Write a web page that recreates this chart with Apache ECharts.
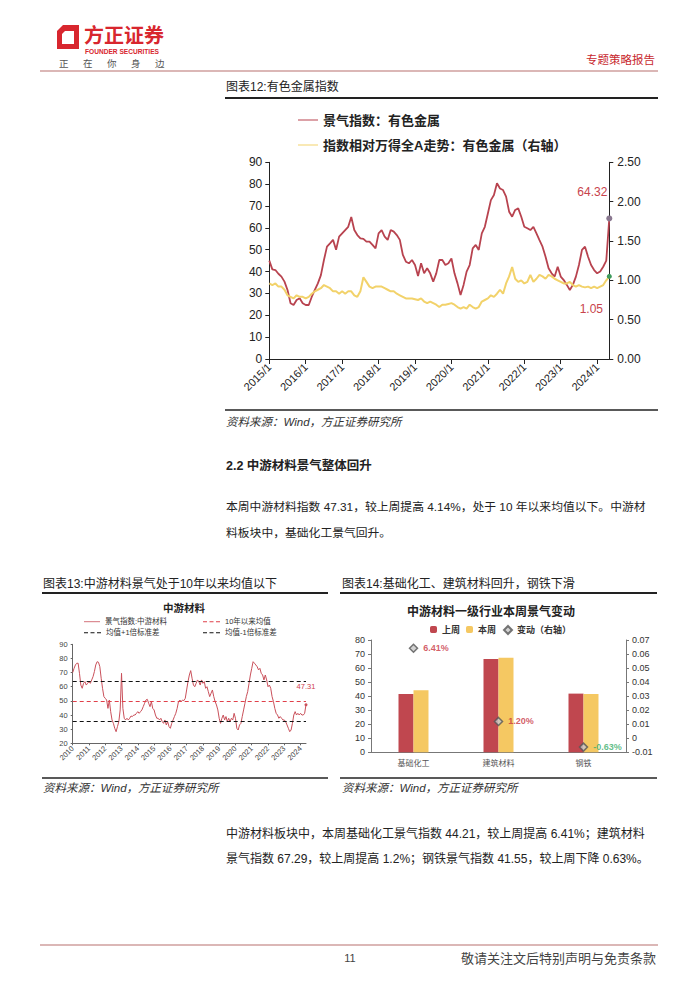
<!DOCTYPE html>
<html>
<head>
<meta charset="utf-8">
<title>有色金属指数 / 中游材料</title>
<script src="https://cdn.jsdelivr.net/npm/echarts@6/dist/echarts.min.js"></script>
<style>
  html, body { margin: 0; padding: 0; background: #fff; }
  #page { width: 700px; height: 990px; }
</style>
</head>
<body>
<div id="page"></div>
<script>
// 月度类目
function makeMonths(y0, m0, y1, m1) {
    var out = [];
    for (var y = y0; y <= y1; y++) {
        for (var m = (y === y0 ? m0 : 1); m <= (y === y1 ? m1 : 12); m++) {
            out.push(y + '/' + m);
        }
    }
    return out;
}

// 图表12：有色金属
var metalMonths = makeMonths(2015, 1, 2024, 5);
var metalIndex = [
    45, 41, 40.7, 39, 37.7, 35.4, 31.6, 25.5, 24.7, 27, 27.8, 25.5,
    24.7, 24.7, 28.5, 31.6, 34.6, 38.4, 45.3, 51.4, 52.9, 54.5, 50, 56,
    57.5, 59, 60.5, 65, 59, 56.7, 55.2, 55, 53.7, 53.7, 52.2, 50.6,
    57.5, 59, 56, 54.5, 59, 58.3, 56.7, 54.5, 47.6, 44.5, 43.8, 45.3,
    43, 38, 43.8, 39.2, 41.5, 39.2, 35.4, 39.2, 45.3, 45.3, 43, 43.8,
    46, 39.2, 34.6, 29.3, 33.9, 40, 43, 50.6, 52.2, 49.9, 57.5, 60.5,
    66.6, 72.7, 75, 80.4, 78, 77.3, 74.3, 67.4, 65.1, 68.2, 68.9, 65.1,
    60.5, 59.8, 59, 60.5, 57.5, 54.4, 51.4, 46.8, 41.5, 39.2, 37.7, 42.2,
    37.7, 36.1, 33.9, 31.6, 33.9, 37.7, 43, 49.9, 51.4, 46.8, 43, 40.7,
    39.2, 40, 42.2, 45, 64.32
];
var metalRelative = [
    0.96, 0.94, 0.96, 0.92, 0.92, 0.88, 0.81, 0.79, 0.77, 0.81, 0.79, 0.79,
    0.77, 0.79, 0.83, 0.86, 0.88, 0.90, 0.94, 0.92, 0.90, 0.86, 0.86, 0.83,
    0.86, 0.83, 0.86, 0.86, 0.81, 0.79, 0.86, 1.04, 0.98, 0.92, 0.90, 0.92,
    0.92, 0.92, 0.90, 0.88, 0.86, 0.86, 0.83, 0.81, 0.79, 0.77, 0.77, 0.77,
    0.76, 0.75, 0.77, 0.73, 0.71, 0.73, 0.71, 0.69, 0.66, 0.69, 0.69, 0.70,
    0.71, 0.69, 0.66, 0.64, 0.66, 0.64, 0.69, 0.66, 0.64, 0.66, 0.73, 0.75,
    0.77, 0.81, 0.79, 0.83, 0.88, 0.83, 0.96, 1.05, 1.17, 1.02, 0.98, 1.00,
    0.96, 0.98, 1.07, 0.98, 1.02, 1.07, 1.05, 1.02, 1.07, 1.05, 1.02, 1.00,
    0.98, 0.96, 0.96, 0.98, 0.94, 0.92, 0.94, 0.92, 0.91, 0.92, 0.90, 0.92,
    0.90, 0.92, 0.94, 1.00, 1.05
];

// 图表13：中游材料
var midMonths = makeMonths(2010, 1, 2024, 5);
var midIndex = [
    70, 73, 75.4, 76.6, 76.6, 69.5, 61.2, 58.9, 62.4, 63.6, 61.2, 62.4,
    63.6, 62.4, 64.8, 67.1, 70.7, 75.4, 77.7, 77.3, 74.2, 66, 58.9, 53,
    51.8, 50.6, 44.7, 50.6, 42.4, 36.5, 34.1, 30.6, 28.2, 31.8, 35.3, 43.6,
    69.5, 44.7, 37.7, 36.5, 37.7, 36.5, 37.7, 39.3, 38.9, 40, 40, 41.2,
    42.4, 41.2, 42.4, 43.6, 45.9, 48.3, 50.6, 51.1, 48.3, 45.9, 49.5, 44.7,
    43.6, 40, 37.7, 37.7, 36.5, 37.7, 35.3, 34.1, 36.5, 33, 35.3, 31.8,
    30.6, 34.1, 36.5, 38.9, 41.2, 44.7, 49.5, 50.6, 49.5, 50.6, 50.2, 51.8,
    57.7, 63.6, 68.3, 71.4, 66, 61.2, 60, 62.4, 64.8, 63.6, 61.2, 64.8,
    62.4, 63.6, 58.9, 60, 56.5, 53, 55.4, 57.7, 53, 49.5, 47.1, 43.6,
    37.7, 34.1, 37.7, 40, 36.5, 38.9, 35.3, 37.7, 35.3, 37.7, 36.5, 41.2,
    37.7, 30.6, 29.4, 33, 34.1, 38.9, 43.6, 48.3, 53, 56.5, 62.4, 68.3,
    73, 77.7, 76.6, 75.4, 74.2, 71.9, 73, 69.5, 68.3, 64.8, 68.3, 64.8,
    60, 61.2, 58.9, 53, 49.5, 44.7, 41.2, 40, 37.7, 38.9, 37.7, 36.5,
    36.5, 35.3, 33, 30.6, 28.2, 29.4, 34.1, 40, 42.4, 40, 41.2, 40,
    41.2, 40, 40, 41.2, 47.31
];
var midMean = 49.7;
var midUpper = 64.0;
var midLower = 35.6;

// 图表14：中游材料一级行业
var industries = ['基础化工', '建筑材料', '钢铁'];
var lastWeek = [41.55, 66.49, 41.81];
var thisWeek = [44.21, 67.29, 41.55];
var weekChange = [0.0641, 0.0120, -0.0063];

var FONT = "'Liberation Sans', 'Noto Sans CJK SC', sans-serif";
var RED = '#b8434f';
var YELLOW = '#f2d26a';
var LOGO_RED = '#d8262e';
// 图例图标：实线、虚线
var SOLID_ICON = 'path://M0,0h20v1h-20z';
var DASH_ICON = 'path://M0,0h4v1h-4zM6.5,0h4v1h-4zM13,0h4v1h-4z';

function isJan(i, v) { return /\/1$/.test(v); }
function txt(s, x, y, size, opt) {
    opt = opt || {};
    return {
        type: 'text',
        style: {
            text: s, x: x, y: y,
            font: (opt.style || '') + ' ' + (opt.weight || 'normal') + ' ' + size + 'px ' + FONT,
            fill: opt.color || '#222',
            textAlign: opt.align || 'left',
            textVerticalAlign: 'middle'
        }
    };
}
function hline(x1, x2, y, w, color) {
    return { type: 'line', shape: { x1: x1, y1: y, x2: x2, y2: y }, style: { stroke: color, lineWidth: w } };
}
function lineLegend(name, icon, left, top, w, h, font) {
    return {
        left: left, top: top, padding: 0, itemWidth: w, itemHeight: h,
        textStyle: font, data: [{ name: name, icon: icon }]
    };
}

var chart = echarts.init(document.getElementById('page'), null, { renderer: 'svg' });

var graphics = [
    // 页眉
    { type: 'polygon', shape: { points: [[63, 25], [79, 25], [79, 49], [57, 49], [57, 31]] }, style: { fill: LOGO_RED } },
    { type: 'polygon', shape: { points: [[65, 31], [74, 31], [74, 44], [62, 44], [62, 34]] }, style: { fill: '#fff' } },
    txt('方正证券', 84, 36, 20, { weight: 'bold', color: LOGO_RED }),
    txt('FOUNDER SECURITIES', 85, 51, 6.6, { weight: 'bold', color: LOGO_RED }),
    txt('正', 59, 63, 9.5, { color: '#555' }),
    txt('在', 83, 63, 9.5, { color: '#555' }),
    txt('你', 107, 63, 9.5, { color: '#555' }),
    txt('身', 131, 63, 9.5, { color: '#555' }),
    txt('边', 155, 63, 9.5, { color: '#555' }),
    txt('专题策略报告', 655, 60, 11.5, { color: '#c8282e', align: 'right' }),
    hline(40, 658, 71, 1.2, '#b8706f'),

    // 图表12
    txt('图表12:有色金属指数', 226, 87, 12),
    hline(225, 658, 98, 2, '#222'),
    hline(225, 658, 410, 1.6, '#222'),
    txt('资料来源：Wind，方正证券研究所', 226, 422, 11.5, { style: 'italic', color: '#333' }),

    txt('2.2 中游材料景气整体回升', 226, 466, 12.5, { weight: 'bold' }),
    txt('本周中游材料指数 47.31，较上周提高 4.14%，处于 10 年以来均值以下。中游材', 226, 507, 11.8),
    txt('料板块中，基础化工景气回升。', 226, 533, 11.8),

    // 图表13
    txt('图表13:中游材料景气处于10年以来均值以下', 43, 584, 12),
    hline(42, 328, 593, 2, '#222'),
    txt('中游材料', 184, 608, 10.5, { weight: 'bold', align: 'center' }),
    hline(42, 328, 778, 1.6, '#222'),
    txt('资料来源：Wind，方正证券研究所', 43, 788, 11.5, { style: 'italic', color: '#333' }),

    // 图表14
    txt('图表14:基础化工、建筑材料回升，钢铁下滑', 342, 584, 12),
    hline(340, 657, 593, 2, '#222'),
    txt('中游材料一级行业本周景气变动', 491, 612, 12, { weight: 'bold', align: 'center' }),
    hline(340, 657, 778, 1.6, '#222'),
    txt('资料来源：Wind，方正证券研究所', 342, 788, 11.5, { style: 'italic', color: '#333' }),

    txt('中游材料板块中，本周基础化工景气指数 44.21，较上周提高 6.41%；建筑材料', 226, 834, 12),
    txt('景气指数 67.29，较上周提高 1.2%；钢铁景气指数 41.55，较上周下降 0.63%。', 226, 859, 12),

    // 页脚
    hline(40, 658, 945, 1.2, '#b8706f'),
    txt('11', 350, 958, 11, { color: '#444', align: 'center' }),
    txt('敬请关注文后特别声明与免责条款', 656, 958, 13, { color: '#444', align: 'right' })
];

var lastMetal = metalMonths[metalMonths.length - 1];
var lastMid = midMonths[midMonths.length - 1];

var bigFont = { fontSize: 13, fontWeight: 'bold', color: '#222' };
var smallFont = { fontSize: 7.5, color: '#333' };
var barFont = { fontSize: 9, fontWeight: 'bold', color: '#333' };

var option = {
    animation: false,
    backgroundColor: '#fff',
    textStyle: { fontFamily: FONT },
    graphic: graphics,
    legend: [
        lineLegend('景气指数：有色金属', SOLID_ICON, 298, 113.5, 20, 2, bigFont),
        lineLegend('指数相对万得全A走势：有色金属（右轴）', SOLID_ICON, 298, 138.5, 20, 2, bigFont),
        lineLegend('景气指数:中游材料', SOLID_ICON, 84, 618, 16, 1.2, smallFont),
        lineLegend('10年以来均值', DASH_ICON, 203, 618, 17, 1.2, smallFont),
        lineLegend('均值+1倍标准差', DASH_ICON, 84, 629, 17, 1.2, smallFont),
        lineLegend('均值-1倍标准差', DASH_ICON, 203, 629, 17, 1.2, smallFont),
        { left: 430, top: 625, padding: 0, itemWidth: 7, itemHeight: 7, textStyle: barFont, data: ['上周'] },
        { left: 466, top: 625, padding: 0, itemWidth: 7, itemHeight: 7, textStyle: barFont, data: ['本周'] },
        { left: 503, top: 625, padding: 0, itemWidth: 8, itemHeight: 8, textStyle: barFont, data: ['变动（右轴）'] }
    ],
    grid: [
        { left: 269.3, top: 162.3, width: 340, height: 196.7 },
        { left: 72.7, top: 644.3, width: 233.3, height: 99 },
        { left: 371, top: 640, width: 255, height: 112.3 }
    ],
    xAxis: [
        {
            gridIndex: 0, type: 'category', data: metalMonths, boundaryGap: false,
            axisLine: { lineStyle: { color: '#222' } },
            axisTick: { interval: isJan, length: 5, lineStyle: { color: '#222' } },
            axisLabel: { interval: isJan, rotate: 45, fontSize: 11, color: '#222', margin: 6 }
        },
        {
            gridIndex: 1, type: 'category', data: midMonths, boundaryGap: false,
            axisLine: { lineStyle: { color: '#666' } },
            axisTick: { interval: isJan, length: 2, lineStyle: { color: '#666' } },
            axisLabel: {
                interval: isJan, rotate: 45, fontSize: 7.5, color: '#444', margin: 4,
                formatter: function (v) { return v.split('/')[0]; }
            }
        },
        {
            gridIndex: 2, type: 'category', data: industries,
            axisLine: { lineStyle: { color: '#777' } },
            axisTick: { length: 4, lineStyle: { color: '#777' } },
            axisLabel: { fontSize: 8, color: '#555', margin: 7 }
        }
    ],
    yAxis: [
        {
            gridIndex: 0, type: 'value', min: 0, max: 90, interval: 10,
            splitLine: { show: false },
            axisLine: { show: true, lineStyle: { color: '#222' } },
            axisTick: { show: true, length: 4, lineStyle: { color: '#222' } },
            axisLabel: { fontSize: 12, color: '#222', margin: 7 }
        },
        {
            gridIndex: 0, type: 'value', min: 0, max: 2.5, interval: 0.5, position: 'right',
            splitLine: { show: false },
            axisLine: { show: true, lineStyle: { color: '#222' } },
            axisTick: { show: true, length: 4, lineStyle: { color: '#222' } },
            axisLabel: { fontSize: 12, color: '#222', margin: 8, formatter: function (v) { return v.toFixed(2); } }
        },
        {
            gridIndex: 1, type: 'value', min: 20, max: 90, interval: 10,
            splitLine: { show: false },
            axisLine: { show: true, lineStyle: { color: '#666' } },
            axisTick: { show: true, length: 2, lineStyle: { color: '#666' } },
            axisLabel: { fontSize: 7.5, color: '#444', margin: 5 }
        },
        {
            gridIndex: 2, type: 'value', min: 0, max: 80, interval: 10,
            splitLine: { show: false },
            axisLine: { show: true, lineStyle: { color: '#777' } },
            axisTick: { show: true, length: 3, lineStyle: { color: '#777' } },
            axisLabel: { fontSize: 9, color: '#333', margin: 6 }
        },
        {
            gridIndex: 2, type: 'value', min: -0.01, max: 0.07, interval: 0.01, position: 'right',
            splitLine: { show: false },
            axisLine: { show: true, lineStyle: { color: '#777' } },
            axisTick: { show: true, length: 3, lineStyle: { color: '#777' } },
            axisLabel: {
                fontSize: 9, color: '#333', margin: 6,
                formatter: function (v) { return Math.abs(v) < 1e-9 ? '0' : v.toFixed(2); }
            }
        }
    ],
    series: [
        {
            name: '景气指数：有色金属', type: 'line', xAxisIndex: 0, yAxisIndex: 0,
            data: metalIndex, symbol: 'none',
            itemStyle: { color: RED }, lineStyle: { color: RED, width: 1.8 },
            markPoint: {
                symbol: 'circle', symbolSize: 6,
                itemStyle: { color: '#8a7890' },
                label: { show: true, position: 'top', offset: [-17, -12], fontSize: 12, color: '#c8434c', formatter: '64.32' },
                data: [{ coord: [lastMetal, metalIndex[metalIndex.length - 1]] }]
            }
        },
        {
            name: '指数相对万得全A走势：有色金属（右轴）', type: 'line', xAxisIndex: 0, yAxisIndex: 1,
            data: metalRelative, symbol: 'none',
            itemStyle: { color: YELLOW }, lineStyle: { color: YELLOW, width: 2 },
            markPoint: {
                symbol: 'circle', symbolSize: 5,
                itemStyle: { color: '#3f9a5c' },
                label: { show: true, position: 'bottom', offset: [-18, 19], fontSize: 12, color: '#c8434c', formatter: '1.05' },
                data: [{ coord: [lastMetal, metalRelative[metalRelative.length - 1]] }]
            }
        },
        {
            name: '景气指数:中游材料', type: 'line', xAxisIndex: 1, yAxisIndex: 2,
            data: midIndex, symbol: 'none',
            itemStyle: { color: '#c9505a' }, lineStyle: { color: '#c9505a', width: 1 },
            markPoint: {
                symbol: 'circle', symbolSize: 3,
                itemStyle: { color: '#c9505a' },
                label: { show: true, position: 'top', offset: [0, -8], fontSize: 7.5, color: '#d0404c', formatter: '47.31' },
                data: [{ coord: [lastMid, midIndex[midIndex.length - 1]] }]
            }
        },
        {
            name: '10年以来均值', type: 'line', xAxisIndex: 1, yAxisIndex: 2, data: [], symbol: 'none',
            itemStyle: { color: '#e0404a' }, lineStyle: { color: '#e0404a', width: 1.2, type: [4, 3] },
            markLine: {
                symbol: 'none', silent: true, label: { show: false },
                lineStyle: { color: '#e0404a', width: 1.2, type: [4, 3] },
                data: [{ yAxis: midMean }]
            }
        },
        {
            name: '均值+1倍标准差', type: 'line', xAxisIndex: 1, yAxisIndex: 2, data: [], symbol: 'none',
            itemStyle: { color: '#111' }, lineStyle: { color: '#111', width: 1.2, type: [4, 3] },
            markLine: {
                symbol: 'none', silent: true, label: { show: false },
                lineStyle: { color: '#111', width: 1.2, type: [4, 3] },
                data: [{ yAxis: midUpper }]
            }
        },
        {
            name: '均值-1倍标准差', type: 'line', xAxisIndex: 1, yAxisIndex: 2, data: [], symbol: 'none',
            itemStyle: { color: '#111' }, lineStyle: { color: '#111', width: 1.2, type: [4, 3] },
            markLine: {
                symbol: 'none', silent: true, label: { show: false },
                lineStyle: { color: '#111', width: 1.2, type: [4, 3] },
                data: [{ yAxis: midLower }]
            }
        },
        {
            name: '上周', type: 'bar', xAxisIndex: 2, yAxisIndex: 3,
            data: lastWeek, barWidth: 15, barGap: '0%',
            itemStyle: { color: '#c0474f' }
        },
        {
            name: '本周', type: 'bar', xAxisIndex: 2, yAxisIndex: 3,
            data: thisWeek, barWidth: 15, barGap: '0%',
            itemStyle: { color: '#f5c862' }
        },
        {
            name: '变动（右轴）', type: 'scatter', xAxisIndex: 2, yAxisIndex: 4,
            symbol: 'diamond', symbolSize: 8,
            itemStyle: { color: '#c8c8c8', borderColor: '#555', borderWidth: 1.5 },
            label: {
                show: true, position: 'right', distance: 5, fontSize: 9, fontWeight: 'bold',
                formatter: function (p) { return (p.value * 100).toFixed(2) + '%'; }
            },
            data: weekChange.map(function (v) {
                return { value: v, label: { color: v < 0 ? '#3aae6a' : '#c8343f' } };
            })
        }
    ]
};

chart.setOption(option);
</script>
</body>
</html>
